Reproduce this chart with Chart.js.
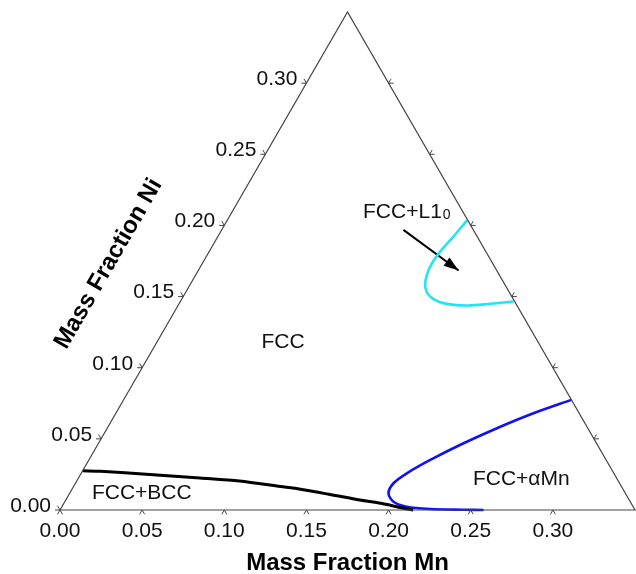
<!DOCTYPE html>
<html>
<head>
<meta charset="utf-8">
<script src="https://cdn.jsdelivr.net/npm/chart.js@4.4.1/dist/chart.umd.min.js"></script>
<style>
  html,body{margin:0;padding:0;background:#fff;}
  #wrap{width:636px;height:574px;}
</style>
</head>
<body>
<div id="wrap"><canvas id="chart" width="636" height="574"></canvas></div>
<script>
const AXIS_MAX = 0.35;
const H = Math.sqrt(3) / 2;

const mnTicks = [0.00, 0.05, 0.10, 0.15, 0.20, 0.25, 0.30];
const niTicks = [0.00, 0.05, 0.10, 0.15, 0.20, 0.25, 0.30];
const sideTicks = [0.05, 0.10, 0.15, 0.20, 0.25, 0.30];
const tickLabels = ['0.00', '0.05', '0.10', '0.15', '0.20', '0.25', '0.30'];

// phase boundaries, mass fractions
const bccMn = [0.000, 0.011, 0.042, 0.074, 0.099, 0.126, 0.139, 0.159, 0.179, 0.193, 0.206, 0.215];
const bccNi = [0.0276, 0.0272, 0.0250, 0.0225, 0.0204, 0.0165, 0.0146, 0.0109, 0.0070, 0.0047, 0.0018, 0.000];

const aMnMn = [0.2725, 0.2542, 0.2372, 0.2222, 0.2078, 0.1982, 0.1936, 0.1941, 0.2001, 0.2099, 0.2250, 0.2455, 0.2578];
const aMnNi = [0.0774, 0.0680, 0.0575, 0.0469, 0.0352, 0.0258, 0.0188, 0.0117, 0.0058, 0.0023, 0.0007, 0.0002, 0.000];

const l10Mn = [0.1460, 0.1434, 0.1406, 0.1397, 0.1407, 0.1438, 0.1503, 0.1607, 0.1759, 0.1895, 0.2029];
const l10Ni = [0.2035, 0.1922, 0.1816, 0.1735, 0.1653, 0.1570, 0.1500, 0.1454, 0.1437, 0.1449, 0.1465];

// region labels and arrow (Mn, Ni)
const regionNames = ['FCC', 'FCC+BCC', 'FCC+αMn'];
const regionMn = [0.0767, 0.0438, 0.2699];
const regionNi = [0.1181, 0.0120, 0.0218];
const l10Label = { Mn: 0.1056, Ni: 0.2110 };
const arrowMn = [0.1106, 0.1585];
const arrowNi = [0.1969, 0.1683];

function toXY(mn, ni){ return { x: mn + ni / 2, y: ni * H }; }
function curve(mn, ni){ return mn.map((m, i) => toXY(m, ni[i])); }

const FONT = '"Liberation Sans", Arial, sans-serif';

const ternary = {
  id: 'ternary',
  afterDatasetsDraw(chart){
    const { ctx, scales: { x, y } } = chart;
    const P = (mn, ni) => { const q = toXY(mn, ni); return { x: x.getPixelForValue(q.x), y: y.getPixelForValue(q.y) }; };
    const L = 5;
    const tick = (p, a1, a2) => {
      ctx.beginPath();
      for(const a of [a1, a2]){
        const r = a * Math.PI / 180;
        ctx.moveTo(p.x, p.y);
        ctx.lineTo(p.x + L * Math.cos(r), p.y - L * Math.sin(r));
      }
      ctx.stroke();
    };
    ctx.save();
    ctx.strokeStyle = '#444';
    ctx.lineWidth = 1;
    mnTicks.forEach(v => tick(P(v, 0), 240, 300));
    niTicks.forEach(v => tick(P(0, v), 120, 180));
    sideTicks.forEach(v => tick(P(AXIS_MAX - v, v), 0, 60));

    ctx.fillStyle = '#111';
    ctx.font = '21px ' + FONT;
    ctx.textAlign = 'center';
    ctx.textBaseline = 'middle';
    mnTicks.forEach((v, i) => { const p = P(v, 0); ctx.fillText(tickLabels[i], p.x, p.y + 21); });
    ctx.textAlign = 'right';
    niTicks.forEach((v, i) => { const p = P(0, v); ctx.fillText(tickLabels[i], p.x - 9, p.y - 4); });

    // region labels
    ctx.textAlign = 'center';
    regionNames.forEach((t, i) => { const p = P(regionMn[i], regionNi[i]); ctx.fillText(t, p.x, p.y); });
    const lp = P(l10Label.Mn, l10Label.Ni);
    ctx.textBaseline = 'alphabetic';
    ctx.font = '21px ' + FONT;
    const main = 'FCC+L1';
    ctx.font = '14px ' + FONT;
    const subW = ctx.measureText('0').width;
    ctx.font = '21px ' + FONT;
    const mainW = ctx.measureText(main).width;
    const x0 = lp.x - (mainW + subW + 1) / 2;
    ctx.textAlign = 'left';
    ctx.fillText(main, x0, lp.y + 8);
    ctx.font = '14px ' + FONT;
    ctx.fillText('0', x0 + mainW + 1, lp.y + 9);

    // arrow head
    const a0 = P(arrowMn[0], arrowNi[0]), a1 = P(arrowMn[1], arrowNi[1]);
    const ang = Math.atan2(a1.y - a0.y, a1.x - a0.x);
    const hl = 15, hw = 5;
    ctx.fillStyle = '#000';
    ctx.beginPath();
    ctx.moveTo(a1.x, a1.y);
    ctx.lineTo(a1.x - hl * Math.cos(ang) + hw * Math.sin(ang), a1.y - hl * Math.sin(ang) - hw * Math.cos(ang));
    ctx.lineTo(a1.x - hl * Math.cos(ang) - hw * Math.sin(ang), a1.y - hl * Math.sin(ang) + hw * Math.cos(ang));
    ctx.closePath();
    ctx.fill();

    // axis titles
    ctx.fillStyle = '#000';
    ctx.font = 'bold 24px ' + FONT;
    ctx.textAlign = 'center';
    ctx.textBaseline = 'middle';
    const bm = P(AXIS_MAX / 2, 0);
    ctx.fillText('Mass Fraction Mn', bm.x, bm.y + 53);
    const lm = P(0, AXIS_MAX / 2);
    const nx = -Math.sqrt(3) / 2, ny = -0.5, ex = 0.5, ey = -Math.sqrt(3) / 2;
    ctx.translate(lm.x + 81 * nx - 50 * ex, lm.y + 81 * ny - 50 * ey);
    ctx.rotate(-Math.PI / 3);
    ctx.fillText('Mass Fraction Ni', 0, 0);
    ctx.restore();
  }
};

const line = (data, color, width) => ({
  data, showLine: true, borderColor: color, borderWidth: width,
  pointRadius: 0, tension: 0.3, fill: false, clip: false
});

new Chart(document.getElementById('chart'), {
  type: 'scatter',
  data: {
    datasets: [
      Object.assign(line([toXY(0, 0), toXY(AXIS_MAX, 0), toXY(0, AXIS_MAX), toXY(0, 0)], '#444', 1.2), { tension: 0 }),
      line(curve(bccMn, bccNi), '#000', 3),
      line(curve(aMnMn, aMnNi), '#1212f0', 2.6),
      line(curve(l10Mn, l10Ni), '#22e4f2', 2.6),
      Object.assign(line(curve(arrowMn, arrowNi), '#000', 2), { tension: 0 })
    ]
  },
  options: {
    responsive: false,
    animation: false,
    layout: { padding: { left: 60, right: 1, top: 12, bottom: 64 } },
    plugins: { legend: { display: false }, tooltip: { enabled: false } },
    scales: {
      x: { type: 'linear', min: 0, max: AXIS_MAX, display: false },
      y: { type: 'linear', min: 0, max: AXIS_MAX * H, display: false }
    }
  },
  plugins: [ternary]
});
</script>
</body>
</html>
